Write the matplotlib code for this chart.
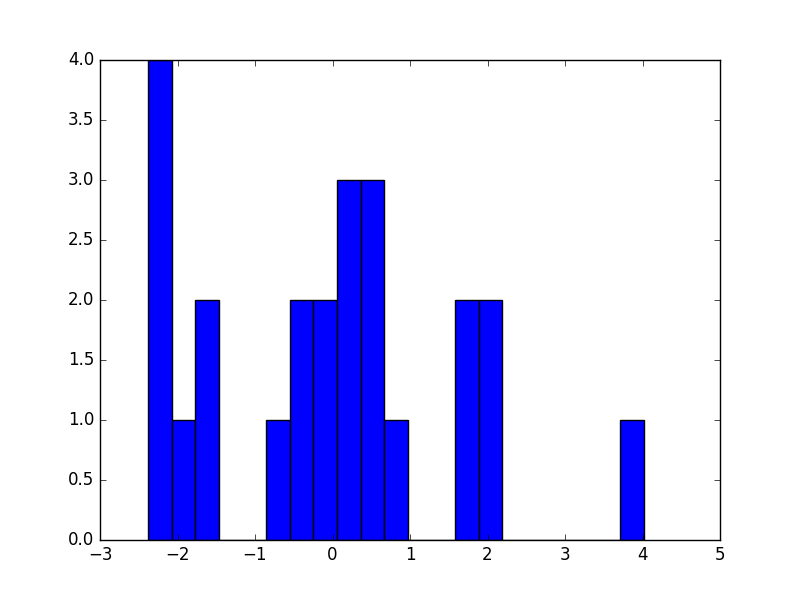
import numpy as np
import matplotlib
matplotlib.use("Agg")
import matplotlib.pyplot as plt

plt.style.use("classic")

# Histogram data
bin_start = -2.381
bin_end = 4.019
counts = [4, 1, 2, 0, 0, 1, 2, 2, 3, 3, 1, 0, 0, 2, 2, 0, 0, 0, 0, 0, 1]

edges = np.linspace(bin_start, bin_end, len(counts) + 1)
centers = (edges[:-1] + edges[1:]) / 2

fig = plt.figure(figsize=(8, 6), dpi=100)
ax = fig.add_subplot(111)
ax.hist(centers, bins=edges, weights=counts, color="blue")
ax.set_xlim(-3, 5)
ax.set_ylim(0, 4)
fig.savefig("out.png", dpi=100, facecolor="white")
